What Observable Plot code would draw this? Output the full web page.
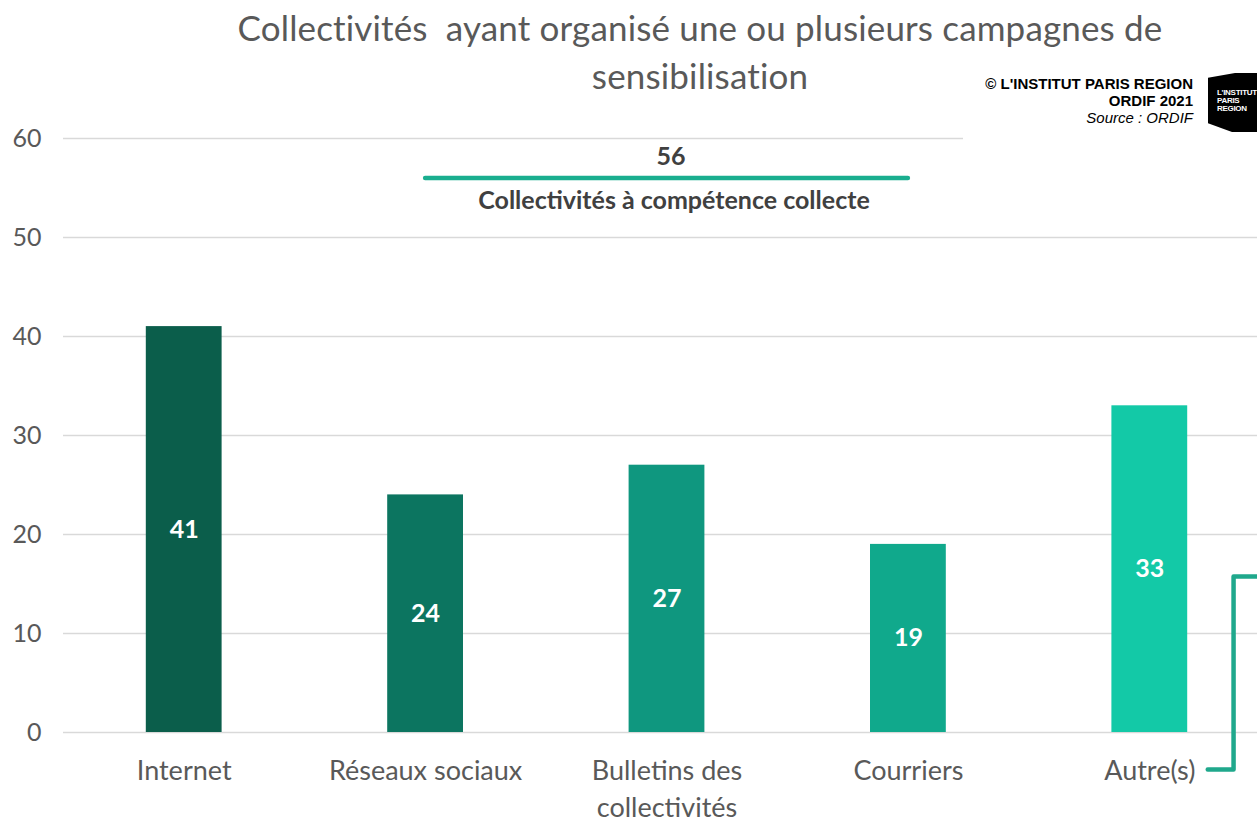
<!DOCTYPE html>
<html>
<head>
<meta charset="utf-8">
<script src="https://cdn.jsdelivr.net/npm/d3@7"></script>
<script src="https://cdn.jsdelivr.net/npm/@observablehq/plot@0.6"></script>
<style>
  body { margin: 0; background: #fff; }
  #wrap { position: relative; width: 1257px; height: 822px; overflow: hidden; font-family: Lato, "Open Sans", sans-serif; }
  #chart { position: absolute; left: 0; top: 0; }
  #title { position: absolute; left: 0; top: 3px; width: 1400px; text-align: center; font-size: 35px; line-height: 48px; color: #595959; letter-spacing: 0.15px; }
  #source { position: absolute; left: 963px; top: 64px; width: 294px; height: 76px; background: #fff; }
  #srctext { position: absolute; right: 64px; top: 11px; text-align: right; font-family: "Liberation Sans", Arial, sans-serif; font-size: 15px; line-height: 17px; color: #000; letter-spacing: 0px; }
  #logo { position: absolute; left: 245px; top: 9px; width: 60px; height: 59px; background: #000; clip-path: polygon(0 8%, 45% 0, 100% 0, 100% 100%, 40% 100%, 0 85%); }
  #logo div { position: absolute; left: 9px; top: 16px; color: #fff; font-family: "Liberation Sans", Arial, sans-serif; font-weight: bold; font-size: 8px; line-height: 8px; letter-spacing: -0.3px; }
</style>
</head>
<body>
<div id="wrap">
  <div id="chart"></div>
  <div id="title">Collectivités&nbsp; ayant organisé une ou plusieurs campagnes de<br>sensibilisation</div>
  <div id="source">
    <div id="srctext"><b>© L'INSTITUT PARIS REGION</b><br><b>ORDIF 2021</b><br><i>Source : ORDIF</i></div>
    <div id="logo"><div>L'INSTITUT<br>PARIS<br>REGION</div></div>
  </div>
</div>
<script>
const categories = ["Internet", "Réseaux sociaux", "Bulletins des\ncollectivités", "Courriers", "Autre(s)"];
const values = [41, 24, 27, 19, 33];
const colors = ["#0b5e4b", "#0c7560", "#0f977f", "#10a98c", "#13c9a7"];
const yTicks = [0, 10, 20, 30, 40, 50, 60];
const totalValue = 56;
const totalLabel = "Collectivités à compétence collecte";
const totalSpan = [1, 3]; // from "Réseaux sociaux" to "Courriers"

const data = categories.map((c, i) => ({i, category: c, value: values[i], color: colors[i]}));
const half = 0.157;
const bracket = [
  {x: 4.24, y: -3.74}, {x: 4.347, y: -3.74}, {x: 4.347, y: 15.76}, {x: 4.7, y: 15.76}
];

const chart = Plot.plot({
  width: 1257,
  height: 822,
  marginLeft: 63,
  marginRight: -13,
  marginTop: 138,
  marginBottom: 90,
  style: {fontFamily: "Lato, 'Open Sans', sans-serif", background: "transparent", overflow: "visible"},
  x: {type: "linear", domain: [-0.5, 4.5]},
  y: {domain: [0, 60]},
  marks: [
    Plot.ruleY(yTicks, {stroke: "#d9d9d9", strokeWidth: 1.3}),
    Plot.rectY(data, {x1: d => d.i - half, x2: d => d.i + half, y: "value", fill: "color"}),
    Plot.text(data, {x: "i", y: d => d.value / 2, text: d => String(d.value), fill: "#fff", fontWeight: "bold", fontSize: 25}),
    Plot.axisY(yTicks, {tickSize: 0, tickPadding: 22, fontSize: 25, fill: "#595959", label: null}),
    Plot.axisX(d3.range(categories.length), {tickSize: 0, tickPadding: 21, fontSize: 27, fill: "#595959", lineHeight: 1.37, tickFormat: i => categories[i], label: null}),
    Plot.ruleY([totalValue], {x1: totalSpan[0], x2: totalSpan[1], stroke: "#1aae8f", strokeWidth: 4.5, strokeLinecap: "round"}),
    Plot.text([totalValue], {x: (totalSpan[0] + totalSpan[1]) / 2, y: d => d, dx: 4, dy: -21, text: d => String(d), fontWeight: "bold", fontSize: 25, fill: "#404040"}),
    Plot.text([totalLabel], {x: (totalSpan[0] + totalSpan[1]) / 2, y: totalValue, dx: 7, dy: 23, text: d => d, fontWeight: "bold", fontSize: 25, fill: "#404040"}),
    Plot.line(bracket, {x: "x", y: "y", stroke: "#1fa88c", strokeWidth: 4.5, curve: "linear"})
  ]
});
document.getElementById("chart").appendChild(chart);
</script>
</body>
</html>
